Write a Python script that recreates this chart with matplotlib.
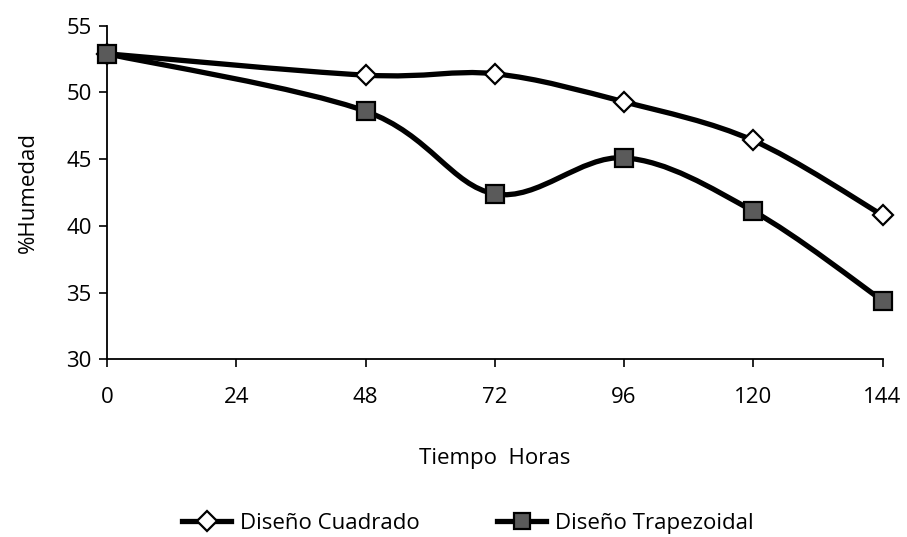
import matplotlib.pyplot as plt
from matplotlib.path import Path
from matplotlib.patches import PathPatch
from matplotlib.lines import Line2D

horas = [0, 48, 72, 96, 120, 144]
cuadrado = [52.9, 51.3, 51.4, 49.3, 46.4, 40.8]
trapezoidal = [52.9, 48.6, 42.4, 45.1, 41.1, 34.4]
xticks = [0, 24, 48, 72, 96, 120, 144]
yticks = [30, 35, 40, 45, 50, 55]

plt.rcParams["font.family"] = ["Open Sans", "DejaVu Sans"]


def smooth_path(xs, ys):
    # Excel-like smoothed line: Catmull-Rom segments as cubic Bezier
    pts = list(zip(xs, ys))
    verts = [pts[0]]
    codes = [Path.MOVETO]
    n = len(pts)
    for i in range(n - 1):
        p0 = pts[i - 1] if i > 0 else pts[i]
        p1 = pts[i]
        p2 = pts[i + 1]
        p3 = pts[i + 2] if i + 2 < n else pts[i + 1]
        c1 = (p1[0] + (p2[0] - p0[0]) / 6, p1[1] + (p2[1] - p0[1]) / 6)
        c2 = (p2[0] - (p3[0] - p1[0]) / 6, p2[1] - (p3[1] - p1[1]) / 6)
        verts += [c1, c2, p2]
        codes += [Path.CURVE4] * 3
    return Path(verts, codes)


fig = plt.figure(figsize=(9.07, 5.37), dpi=100)
ax = fig.add_axes([0.118, 0.331, 0.855, 0.621])

for ys in (cuadrado, trapezoidal):
    ax.add_patch(PathPatch(smooth_path(horas, ys), facecolor="none",
                           edgecolor="black", linewidth=3.8, zorder=2, clip_on=False))

ax.plot(horas, cuadrado, linestyle="none", marker="D", markersize=10,
        markerfacecolor="white", markeredgecolor="black", markeredgewidth=1.6,
        zorder=3, clip_on=False)
ax.plot(horas, trapezoidal, linestyle="none", marker="s", markersize=13,
        markerfacecolor="#5a5a5a", markeredgecolor="black", markeredgewidth=1.6,
        zorder=3, clip_on=False)

ax.set_xlim(0, 144)
ax.set_ylim(30, 55)
ax.set_xticks(xticks)
ax.set_yticks(yticks)
ax.tick_params(axis="both", labelsize=16, width=1.2, length=6, direction="out")
ax.tick_params(axis="x", pad=14)
ax.tick_params(axis="y", pad=5)
ax.spines["top"].set_visible(False)
ax.spines["right"].set_visible(False)
ax.spines["left"].set_linewidth(1.3)
ax.spines["bottom"].set_linewidth(1.3)
ax.set_xlabel("Tiempo  Horas", fontsize=16, labelpad=29)
ax.set_ylabel("%Humedad", fontsize=16, labelpad=20)

handles = [
    Line2D([], [], color="black", linewidth=3.8, marker="D", markersize=10,
           markerfacecolor="white", markeredgecolor="black", markeredgewidth=1.6),
    Line2D([], [], color="black", linewidth=3.8, marker="s", markersize=12,
           markerfacecolor="#5a5a5a", markeredgecolor="black", markeredgewidth=1.6),
]
fig.legend(handles, ["Diseño Cuadrado", "Diseño Trapezoidal"], loc="center",
           bbox_to_anchor=(0.516, 0.026), ncol=2, frameon=False, fontsize=16,
           handlelength=2.2, columnspacing=3.5, handletextpad=0.4)

fig.savefig("out.png", dpi=100)
